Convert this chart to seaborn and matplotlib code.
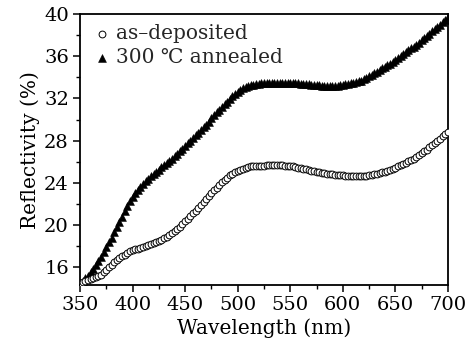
import numpy as np
import pandas as pd
import matplotlib
matplotlib.use("Agg")
import matplotlib.pyplot as plt
import seaborn as sns
from matplotlib.ticker import MultipleLocator

wavelength = np.arange(350, 700.1, 2.5)

annealed = [
    14.4, 14.65, 14.95, 15.2,
    15.5, 15.85, 16.2, 16.6,
    17.0, 17.45, 17.9, 18.35,
    18.8, 19.3, 19.8, 20.3,
    20.8, 21.3, 21.8, 22.3,
    22.7, 23.0, 23.35, 23.65,
    23.9, 24.15, 24.35, 24.6,
    24.8, 25.0, 25.25, 25.5,
    25.7, 25.9, 26.1, 26.3,
    26.5, 26.75, 27.0, 27.25,
    27.5, 27.75, 28.0, 28.25,
    28.5, 28.75, 29.0, 29.25,
    29.5, 29.8, 30.1, 30.4,
    30.7, 30.95, 31.2, 31.45,
    31.7, 31.95, 32.2, 32.4,
    32.6, 32.8, 32.95, 33.1,
    33.2, 33.25, 33.3, 33.35,
    33.4, 33.45, 33.45, 33.5,
    33.5, 33.5, 33.5, 33.5,
    33.5, 33.5, 33.5, 33.5,
    33.5, 33.5, 33.45, 33.45,
    33.4, 33.4, 33.35, 33.35,
    33.3, 33.3, 33.25, 33.25,
    33.2, 33.2, 33.15, 33.15,
    33.15, 33.15, 33.2, 33.25,
    33.3, 33.35, 33.4, 33.45,
    33.5, 33.55, 33.65, 33.7,
    33.8, 33.95, 34.1, 34.25,
    34.4, 34.55, 34.7, 34.85,
    35.0, 35.15, 35.3, 35.45,
    35.6, 35.8, 36.0, 36.2,
    36.4, 36.55, 36.75, 36.9,
    37.1, 37.3, 37.5, 37.7,
    37.9, 38.1, 38.35, 38.55,
    38.8, 39.0, 39.25, 39.45,
    39.7,
]

as_deposited = [
    14.5, 14.57, 14.65, 14.75,
    14.85, 14.95, 15.05, 15.15,
    15.3, 15.5, 15.75, 16.0,
    16.2, 16.45, 16.65, 16.85,
    17.05, 17.2, 17.35, 17.5,
    17.6, 17.7, 17.75, 17.85,
    17.9, 18.0, 18.1, 18.2,
    18.3, 18.4, 18.5, 18.6,
    18.75, 18.9, 19.05, 19.2,
    19.4, 19.6, 19.85, 20.1,
    20.35, 20.6, 20.85, 21.1,
    21.35, 21.6, 21.9, 22.15,
    22.45, 22.75, 23.0, 23.3,
    23.55, 23.8, 24.05, 24.3,
    24.5, 24.7, 24.85, 25.0,
    25.15, 25.25, 25.35, 25.45,
    25.5, 25.55, 25.55, 25.6,
    25.6, 25.62, 25.64, 25.65,
    25.65, 25.65, 25.65, 25.65,
    25.65, 25.65, 25.63, 25.62,
    25.6, 25.55, 25.5, 25.45,
    25.4, 25.33, 25.27, 25.2,
    25.15, 25.1, 25.05, 25.0,
    24.95, 24.9, 24.87, 24.83,
    24.8, 24.77, 24.75, 24.72,
    24.7, 24.68, 24.66, 24.64,
    24.63, 24.62, 24.62, 24.62,
    24.63, 24.66, 24.7, 24.75,
    24.8, 24.86, 24.92, 24.98,
    25.05, 25.15, 25.25, 25.35,
    25.45, 25.55, 25.67, 25.78,
    25.9, 26.03, 26.17, 26.3,
    26.45, 26.62, 26.8, 26.97,
    27.15, 27.35, 27.55, 27.75,
    27.95, 28.15, 28.4, 28.6,
    28.85,
]

label_dep = "as\u2013deposited"
label_ann = "300 \u2103 annealed"

x_ticks = [350, 400, 450, 500, 550, 600, 650, 700]
y_ticks = [16, 20, 24, 28, 32, 36, 40]

df_dep = pd.DataFrame({"Wavelength": wavelength, "Reflectivity": as_deposited})
df_ann = pd.DataFrame({"Wavelength": wavelength, "Reflectivity": annealed})

sns.set_theme(style="ticks")
plt.rcParams["font.family"] = ["DejaVu Serif", "DejaVu Sans"]

fig = plt.figure(figsize=(4.68, 3.52), dpi=100)
ax = fig.add_axes([0.171, 0.190, 0.786, 0.770])

sns.scatterplot(data=df_ann, x="Wavelength", y="Reflectivity", marker="^",
                color="black", edgecolor="black", linewidth=0.4, s=32,
                ax=ax, label=label_ann, zorder=3)
sns.scatterplot(data=df_dep, x="Wavelength", y="Reflectivity", marker="o",
                facecolor="white", edgecolor="black", linewidth=0.7, s=24,
                ax=ax, label=label_dep, zorder=3)

ax.set_xlim(350, 700)
ax.set_ylim(14.3, 40)
ax.set_xticks(x_ticks)
ax.set_yticks(y_ticks)
ax.xaxis.set_minor_locator(MultipleLocator(25))
ax.yaxis.set_minor_locator(MultipleLocator(2))
ax.tick_params(which="major", direction="out", length=5, width=1.1,
               labelsize=14, color="black", labelcolor="black", pad=3)
ax.tick_params(which="minor", direction="out", length=3, width=1.0, color="black")
for sp in ax.spines.values():
    sp.set_visible(True)
    sp.set_color("black")
    sp.set_linewidth(1.3)

ax.set_xlabel("Wavelength (nm)", fontsize=14.5, color="black", labelpad=3)
ax.set_ylabel("Reflectivity (%)", fontsize=14.5, color="black", labelpad=3)

h, l = ax.get_legend_handles_labels()
order = [l.index(label_dep), l.index(label_ann)]
leg = ax.legend([h[i] for i in order], [l[i] for i in order], loc="upper left",
                frameon=False, fontsize=14.5, handletextpad=0.1,
                labelspacing=0.25, borderaxespad=0.1, handlelength=1.2,
                markerscale=1.0, bbox_to_anchor=(0.0, 1.0))

fig.savefig("out.png", dpi=100)
